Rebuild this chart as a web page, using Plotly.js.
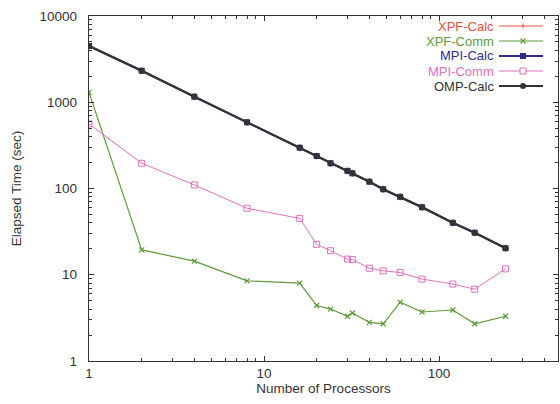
<!DOCTYPE html>
<html><head><meta charset="utf-8">
<script src="https://cdn.plot.ly/plotly-3.0.1.min.js"></script>
<style>html,body{margin:0;padding:0;background:#fff;}#chart{width:560px;height:404px;}</style>
</head><body><div id="chart"></div>
<script>
const processors = [1,2,4,8,16,20,24,30,32,40,48,60,80,120,160,240];
const calcTime   = [4490,2320,1160,585,297,238,196,160,150,120,98,80,60.6,40,30.7,20.3];
const xpfComm    = [1300,19.4,14.4,8.5,8.0,4.4,4.0,3.3,3.6,2.8,2.7,4.8,3.7,3.9,2.7,3.3];
const mpiComm    = [560,196,110,59,45,22.5,19,15.2,15,11.9,11.1,10.6,8.9,7.8,6.8,11.7];
const seriesNames = ["XPF-Calc","XPF-Comm","MPI-Calc","MPI-Comm","OMP-Calc"];
const colors = ["#e8503f","#5f9a3a","#2c2c8c","#e070c0","#333333"];
const FONT = 'Liberation Sans, Arial, sans-serif';

const traces = [
  {x:processors,y:calcTime,name:seriesNames[0],mode:'lines+markers',line:{color:colors[0],width:1},marker:{symbol:'cross-thin',size:5,line:{color:colors[0],width:1}}},
  {x:processors,y:xpfComm,name:seriesNames[1],mode:'lines+markers',line:{color:colors[1],width:1.2},marker:{symbol:'x-thin',size:5,line:{color:colors[1],width:1.2}}},
  {x:processors,y:calcTime,name:seriesNames[2],mode:'lines+markers',line:{color:colors[2],width:2},marker:{symbol:'square',size:6,color:colors[2]}},
  {x:processors,y:mpiComm,name:seriesNames[3],mode:'lines+markers',line:{color:colors[3],width:1},marker:{symbol:'square-open',size:6,color:colors[3],line:{width:1}}},
  {x:processors,y:calcTime,name:seriesNames[4],mode:'lines+markers',line:{color:colors[4],width:2.2},marker:{symbol:'circle',size:6,color:colors[4]}}
];

// geometry of plot area (pixels) for legend placement
const H = 404, W = 560, L = 89, R = 558, T = 16, B = 361;
const px2x = p => (p - L) / (R - L);
const py2y = p => (B - p) / (B - T);
const legRows = [26, 41, 56, 71, 86];

const annotations = seriesNames.map((n,i)=>({
  xref:'paper',yref:'paper',x:px2x(495),y:py2y(legRows[i]),xanchor:'right',yanchor:'middle',
  text:n,showarrow:false,font:{family:FONT,size:13,color:colors[i]},borderpad:0
}));
const shapes = [];
seriesNames.forEach((n,i)=>{
  const yv = py2y(legRows[i]);
  shapes.push({type:'line',xref:'paper',yref:'paper',x0:px2x(499),x1:px2x(543),y0:yv,y1:yv,line:{color:colors[i],width:traces[i].line.width}});
  const cx = 523, cy = legRows[i];
  if (i===0) {
    shapes.push({type:'line',xref:'paper',yref:'paper',x0:px2x(cx),x1:px2x(cx),y0:py2y(cy-2.5),y1:py2y(cy+2.5),line:{color:colors[i],width:1}});
  } else if (i===1) {
    shapes.push({type:'line',xref:'paper',yref:'paper',x0:px2x(cx-2.5),x1:px2x(cx+2.5),y0:py2y(cy-2.5),y1:py2y(cy+2.5),line:{color:colors[i],width:1.2}});
    shapes.push({type:'line',xref:'paper',yref:'paper',x0:px2x(cx-2.5),x1:px2x(cx+2.5),y0:py2y(cy+2.5),y1:py2y(cy-2.5),line:{color:colors[i],width:1.2}});
  } else if (i===2) {
    shapes.push({type:'rect',xref:'paper',yref:'paper',x0:px2x(cx-3),x1:px2x(cx+3),y0:py2y(cy+3),y1:py2y(cy-3),fillcolor:colors[i],line:{width:0}});
  } else if (i===3) {
    shapes.push({type:'rect',xref:'paper',yref:'paper',x0:px2x(cx-3),x1:px2x(cx+3),y0:py2y(cy+3),y1:py2y(cy-3),fillcolor:'#ffffff',line:{color:colors[i],width:1}});
  } else {
    shapes.push({type:'circle',xref:'paper',yref:'paper',x0:px2x(cx-3),x1:px2x(cx+3),y0:py2y(cy+3),y1:py2y(cy-3),fillcolor:colors[i],line:{width:0}});
  }
});

const minorX = [2,3,4,5,6,7,8,9,20,30,40,50,60,70,80,90,200,300,400];
const minorY = [2,3,4,5,6,7,8,9,20,30,40,50,60,70,80,90,200,300,400,500,600,700,800,900,2000,3000,4000,5000,6000,7000,8000,9000];

const layout = {
  width:W,height:H,
  margin:{l:L,r:W-R,t:T,b:H-B},
  paper_bgcolor:'#ffffff',plot_bgcolor:'#ffffff',
  showlegend:false,
  font:{family:FONT,size:13.5,color:'#333'},
  xaxis:{type:'log',range:[0,2.68],showgrid:false,zeroline:false,showline:true,linecolor:'#333',linewidth:1.2,mirror:'allticks',
    ticks:'inside',ticklen:5,tickcolor:'#333',tickvals:[1,10,100],ticktext:['1','10','100'],
    minor:{ticks:'inside',ticklen:3,tickcolor:'#333',tickvals:minorX},
    title:{text:'Number of Processors',font:{size:13.5,color:'#333'},standoff:1}},
  yaxis:{type:'log',range:[0,4],showgrid:false,zeroline:false,showline:true,linecolor:'#333',linewidth:1.2,mirror:'allticks',
    ticks:'inside',ticklen:5,tickcolor:'#333',tickvals:[1,10,100,1000,10000],ticktext:['1','10','100','1000','10000'],
    ticklabelstandoff:8,
    minor:{ticks:'inside',ticklen:3,tickcolor:'#333',tickvals:minorY},
    title:{text:'Elapsed Time (sec)',font:{size:13.5,color:'#333'},standoff:14}},
  annotations:annotations,
  shapes:shapes
};
Plotly.newPlot('chart',traces,layout,{displayModeBar:false,staticPlot:true});
</script></body></html>
